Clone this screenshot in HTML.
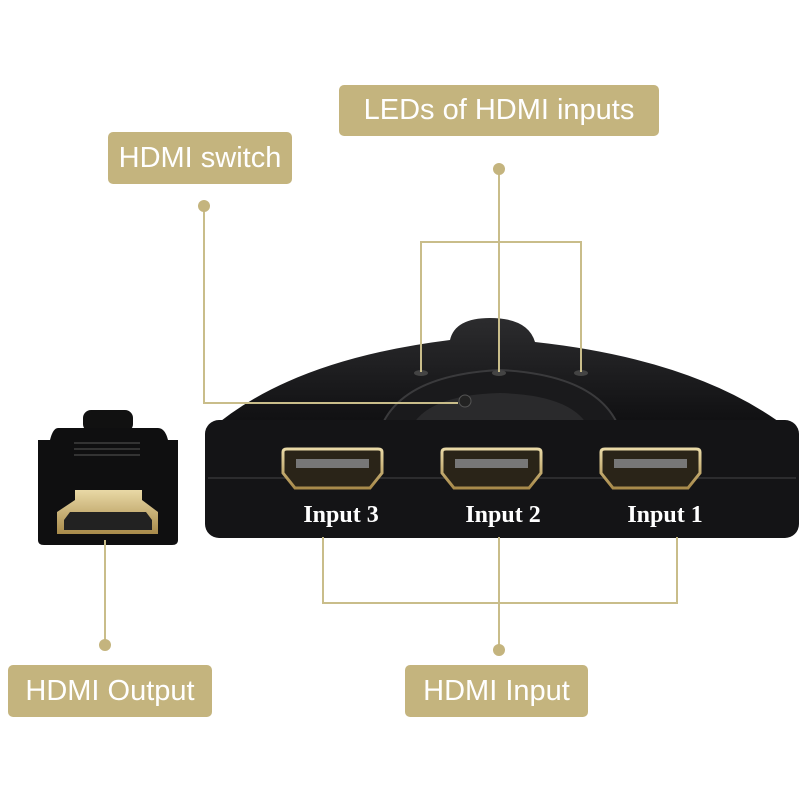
<!DOCTYPE html>
<html><head><style>
body{margin:0;background:#fff;}
.lb{position:absolute;background:#c4b47e;color:#fff;font-family:"Liberation Sans",sans-serif;font-size:29px;display:flex;align-items:center;justify-content:center;border-radius:5px;}
</style></head><body>
<div style="position:relative;width:800px;height:800px;overflow:hidden">
<svg width="800" height="800" style="position:absolute;left:0;top:0">
<defs>
<linearGradient id="g1" x1="0" y1="0" x2="0" y2="1"><stop offset="0" stop-color="#2c2c2e"/><stop offset="1" stop-color="#0e0e10"/></linearGradient>
<linearGradient id="gold" x1="0" y1="0" x2="0" y2="1"><stop offset="0" stop-color="#e9d9a6"/><stop offset="1" stop-color="#a88a4a"/></linearGradient>
</defs>
<path d="M450 340 Q455 318 490 318 Q528 318 535 342 Q700 360 790 430 L210 430 Q290 360 450 340Z" fill="url(#g1)"/>
<path d="M380 430 Q400 375 500 370 Q600 375 620 430Z" fill="#1a1a1c" stroke="#3a3a3c" stroke-width="2"/>
<path d="M410 430 Q425 395 500 393 Q575 395 590 430Z" fill="#2a2a2c"/>
<circle cx="465" cy="401" r="6" fill="#222" stroke="#555"/>
<rect x="205" y="420" width="594" height="118" rx="14" fill="#141416"/>
<line x1="208" y1="478" x2="796" y2="478" stroke="#2c2c2e" stroke-width="2"/>
<ellipse cx="421" cy="373" rx="7" ry="3" fill="#444"/>
<ellipse cx="499" cy="373" rx="7" ry="3" fill="#444"/>
<ellipse cx="581" cy="373" rx="7" ry="3" fill="#444"/>
<g id="p">
<path d="M283 452 Q283 449 287 449 L378 449 Q382 449 382 452 L382 473 L370 488 L295 488 L283 473Z" fill="#2a2418" stroke="url(#gold)" stroke-width="3"/>
<rect x="296" y="459" width="73" height="9" fill="#777"/>
</g>
<use href="#p" x="159"/>
<use href="#p" x="318"/>
<text x="341" y="522" fill="#fff" font-family="Liberation Serif,serif" font-weight="bold" font-size="24" text-anchor="middle">Input 3</text>
<text x="503" y="522" fill="#fff" font-family="Liberation Serif,serif" font-weight="bold" font-size="24" text-anchor="middle">Input 2</text>
<text x="665" y="522" fill="#fff" font-family="Liberation Serif,serif" font-weight="bold" font-size="24" text-anchor="middle">Input 1</text>
<rect x="83" y="410" width="50" height="22" rx="8" fill="#111"/>
<path d="M58 428 L158 428 Q165 428 168 440 L178 440 L178 540 Q178 545 172 545 L44 545 Q38 545 38 540 L38 440 L50 440 Q53 428 58 428Z" fill="#0f0f10"/>
<line x1="74" y1="443" x2="140" y2="443" stroke="#333" stroke-width="2"/>
<line x1="74" y1="449" x2="140" y2="449" stroke="#333" stroke-width="2"/>
<line x1="74" y1="455" x2="140" y2="455" stroke="#333" stroke-width="2"/>
<path d="M75 490 L142 490 L142 500 L158 512 L158 534 L57 534 L57 512 L75 500Z" fill="url(#gold)"/>
<path d="M70 512 L146 512 L152 520 L152 530 L64 530 L64 520Z" fill="#222"/>
<g stroke="#c9bd8a" stroke-width="2" fill="none">
<polyline points="204,206 204,403 458,403"/>
<line x1="499" y1="169" x2="499" y2="372"/>
<polyline points="421,372 421,242 581,242 581,372"/>
<polyline points="323,537 323,603 677,603 677,537"/>
<line x1="499" y1="537" x2="499" y2="650"/>
<line x1="105" y1="540" x2="105" y2="645"/>
</g>
<g fill="#c4b47e">
<circle cx="204" cy="206" r="6"/><circle cx="499" cy="169" r="6"/><circle cx="499" cy="650" r="6"/><circle cx="105" cy="645" r="6"/>
</g>
</svg>
<div class="lb" style="left:339px;top:85px;width:320px;height:51px">LEDs of HDMI inputs</div>
<div class="lb" style="left:108px;top:132px;width:184px;height:52px">HDMI switch</div>
<div class="lb" style="left:8px;top:665px;width:204px;height:52px">HDMI Output</div>
<div class="lb" style="left:405px;top:665px;width:183px;height:52px">HDMI Input</div>
</div>
</body></html>
